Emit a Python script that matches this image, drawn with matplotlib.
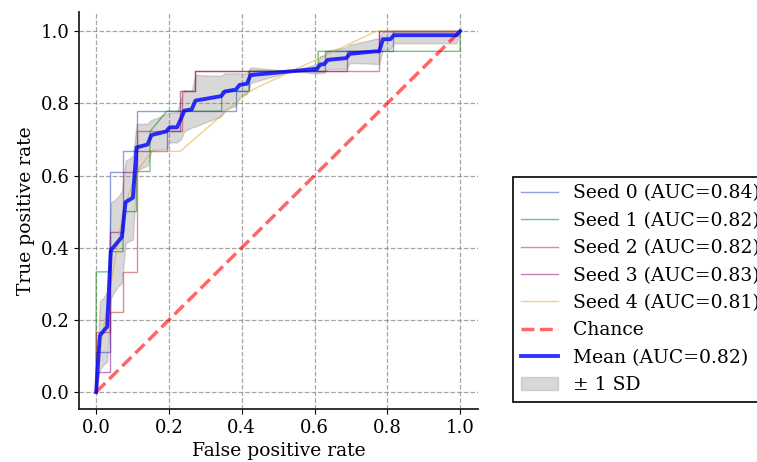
import numpy as np
import matplotlib
matplotlib.use("Agg")
import matplotlib.pyplot as plt

plt.rcParams["font.family"] = ["DejaVu Serif"]
plt.rcParams["font.size"] = 13

# ROC vertices (false positive rate, true positive rate) for each seed
seed0_fpr = [0.0, 0.0, 0.037, 0.037, 0.074, 0.074, 0.111, 0.111, 0.385, 0.385, 0.42, 0.42, 0.63, 0.63, 0.815, 0.815, 1.0]
seed0_tpr = [0.0, 0.111, 0.111, 0.611, 0.611, 0.667, 0.667, 0.778, 0.778, 0.833, 0.833, 0.889, 0.889, 0.944, 0.944, 1.0, 1.0]

seed1_fpr = [0.0, 0.0, 0.037, 0.037, 0.074, 0.074, 0.111, 0.111, 0.148, 0.148, 0.194, 0.345, 0.345, 0.42, 0.42, 0.61, 0.61, 1.0, 1.0]
seed1_tpr = [0.0, 0.333, 0.333, 0.389, 0.389, 0.5, 0.5, 0.611, 0.611, 0.722, 0.778, 0.778, 0.833, 0.833, 0.889, 0.889, 0.944, 0.944, 1.0]

seed2_fpr = [0.0, 0.0, 0.037, 0.037, 0.074, 0.074, 0.111, 0.111, 0.235, 0.235, 0.272, 0.272, 0.778, 0.778, 1.0]
seed2_tpr = [0.0, 0.167, 0.167, 0.222, 0.222, 0.333, 0.333, 0.722, 0.722, 0.833, 0.833, 0.889, 0.889, 1.0, 1.0]

seed3_fpr = [0.0, 0.0, 0.037, 0.037, 0.074, 0.074, 0.111, 0.111, 0.194, 0.194, 0.231, 0.231, 0.272, 0.272, 0.69, 0.69, 0.778, 0.778, 1.0]
seed3_tpr = [0.0, 0.056, 0.056, 0.444, 0.444, 0.611, 0.611, 0.667, 0.667, 0.722, 0.722, 0.833, 0.833, 0.889, 0.889, 0.944, 0.944, 1.0, 1.0]

seed4_fpr = [0.0, 0.0, 0.037, 0.074, 0.111, 0.153, 0.231, 0.42, 0.77, 1.0]
seed4_tpr = [0.0, 0.056, 0.278, 0.5, 0.611, 0.667, 0.667, 0.833, 1.0, 1.0]

seed_aucs = [0.84, 0.82, 0.82, 0.83, 0.81]
mean_auc = 0.82
seed_colors = ["#2040c0", "#008000", "#b22222", "#800080", "#daa520"]

seeds = [
    (seed0_fpr, seed0_tpr),
    (seed1_fpr, seed1_tpr),
    (seed2_fpr, seed2_tpr),
    (seed3_fpr, seed3_tpr),
    (seed4_fpr, seed4_tpr),
]

fig = plt.figure(figsize=(7.57, 4.62), dpi=100)
ax = fig.add_axes([0.1044, 0.1147, 0.5270, 0.8593])

for i, ((fpr, tpr), auc, col) in enumerate(zip(seeds, seed_aucs, seed_colors)):
    ax.plot(fpr, tpr, color=col, lw=1.0, alpha=0.5,
            label=f"Seed {i} (AUC={auc:.2f})")

ax.plot([0, 1], [0, 1], linestyle="--", color="red", lw=2.5, alpha=0.6,
        label="Chance")

# Mean curve on a common FPR grid
grid = np.linspace(0, 1, 100)
interp = []
for fpr, tpr in seeds:
    t = np.interp(grid, fpr, tpr)
    t[0] = 0.0
    interp.append(t)
interp = np.array(interp)
mean_tpr = interp.mean(axis=0)
mean_tpr[-1] = 1.0
std_tpr = interp.std(axis=0)

ax.plot(grid, mean_tpr, color="blue", lw=2.8, alpha=0.8,
        label=f"Mean (AUC={mean_auc:.2f})")
ax.fill_between(grid, np.maximum(mean_tpr - std_tpr, 0),
                np.minimum(mean_tpr + std_tpr, 1),
                color="grey", alpha=0.3, label="\u00b1 1 SD")

ax.set_xlim(-0.047, 1.049)
ax.set_ylim(-0.047, 1.053)
ticks = [0.0, 0.2, 0.4, 0.6, 0.8, 1.0]
ax.set_xticks(ticks)
ax.set_yticks(ticks)
ax.tick_params(labelsize=13)
ax.set_xlabel("False positive rate", fontsize=13.5)
ax.set_ylabel("True positive rate", fontsize=13.5)
ax.grid(True, linestyle="--", color="grey", alpha=0.7, lw=0.9)
ax.set_axisbelow(True)
for s in ["top", "right"]:
    ax.spines[s].set_visible(False)
for s in ["left", "bottom"]:
    ax.spines[s].set_color("#222222")
    ax.spines[s].set_linewidth(1.3)

leg = ax.legend(loc="upper left", bbox_to_anchor=(0.6777, 0.6169),
                bbox_transform=fig.transFigure, fontsize=13.5,
                fancybox=False, framealpha=1.0, edgecolor="black",
                borderaxespad=0, labelspacing=0.5)
leg.get_frame().set_linewidth(1.2)

fig.savefig("out.png", dpi=100)
